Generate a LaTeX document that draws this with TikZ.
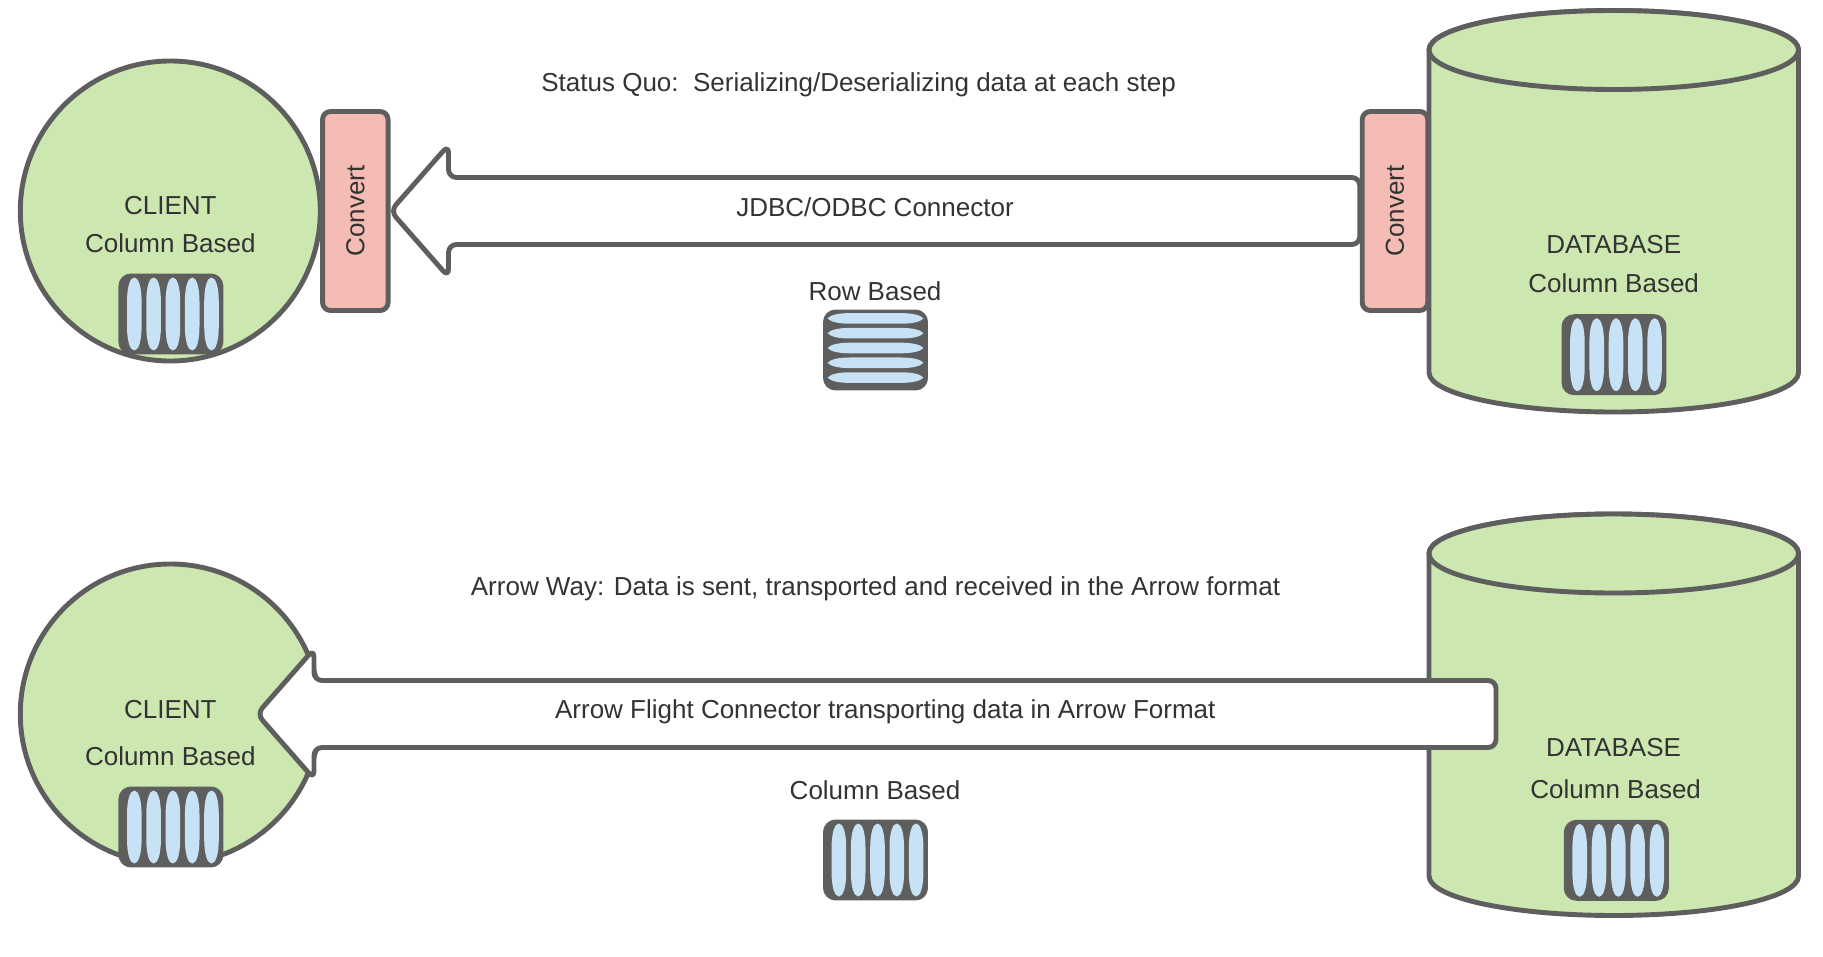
\documentclass[tikz,border=0pt]{standalone}
\usepackage{fontspec}
\usepackage{graphicx}
\setmainfont{Liberation Sans}
\usetikzlibrary{calc}
\definecolor{lgreen}{HTML}{CDE7B0}
\definecolor{lred}{HTML}{F4BCB4}
\definecolor{lblue}{HTML}{C7E2F4}
\definecolor{lstroke}{HTML}{5E5E5E}
\definecolor{ltext}{HTML}{333333}
\tikzset{
  every node/.style={text=ltext,font=\fontsize{26}{30}\selectfont},
  shapeline/.style={draw=lstroke,line width=4.9pt,line join=round},
  txt/.style={inner sep=0pt,text height=18.6pt,text depth=0pt},
  clientnode/.style={circle,shapeline,fill=lgreen,minimum size=300pt,inner sep=0pt},
  convertbox/.style={shapeline,fill=lred,rounded corners=8pt,minimum width=65.5pt,minimum height=199pt,inner sep=0pt},
  fatarrow/.style={shapeline,fill=white,rounded corners=8pt},
  cylbody/.style={shapeline,fill=lgreen},
  iconbox/.style={shapeline,fill=lstroke,rounded corners=10pt,minimum width=100pt,minimum height=76pt,inner sep=0pt},
  barfill/.style={fill=lblue}
}
\newcommand{\colicon}[3]{%
  \node[iconbox] (#1) at (#2,#3) {};
  \foreach \d in {-36.6,-17.3,2,21.3,40.6}
    \fill[barfill] ($(#1.center)+(\d,-36.5)$)
      .. controls +(4.4,0) and +(0,-14) .. ++(7.3,24) -- ++(0,25)
      .. controls +(0,14) and +(4.4,0) .. ++(-7.3,24)
      .. controls +(-4.4,0) and +(0,14) .. ++(-7.3,-24) -- ++(0,-25)
      .. controls +(0,-14) and +(-4.4,0) .. ++(7.3,-24) -- cycle;
}
\newcommand{\rowicon}[3]{%
  \node[iconbox] (#1) at (#2,#3) {};
  \foreach \d in {-31.6,-16.8,-2,12.8,27.6}
    \fill[barfill] ($(#1.center)+(-48,\d)$)
      .. controls +(3,-3.6) and +(-10,0) .. ++(22,-5.3) -- ++(52,0)
      .. controls +(10,0) and +(-3,-3.6) .. ++(22,5.3)
      .. controls +(-3,3.6) and +(10,0) .. ++(-22,5.3) -- ++(-52,0)
      .. controls +(-10,0) and +(3,3.6) .. ++(-22,-5.3) -- cycle;
}
\newcommand{\cylinderat}[1]{%
  \draw[cylbody] (1429,#1) -- ++(0,322.5)
     arc[start angle=180,end angle=360,x radius=184.75pt,y radius=39.5pt]
     -- (1798.5,#1) arc[start angle=0,end angle=180,x radius=184.75pt,y radius=39.5pt] -- cycle;
  \draw[cylbody] (1429,#1) arc[start angle=180,end angle=360,x radius=184.75pt,y radius=39.5pt]
     arc[start angle=0,end angle=180,x radius=184.75pt,y radius=39.5pt] -- cycle;
}
\begin{document}
\begin{tikzpicture}[x=1pt,y=-1pt]
\useasboundingbox (0,0) rectangle (1823,957);
% ---------- top row
\node[clientnode] (client1) at (170.3,211) {};
\cylinderat{50}
\node[convertbox] (conv1) at (355.3,211) {\rotatebox{90}{Convert}};
\node[convertbox] (conv2) at (1395,211) {\rotatebox{90}{Convert}};
\coordinate (tip1) at (conv1.east);
\coordinate (tail1) at (conv2.west);
\draw[fatarrow] (tip1) -- ($(tip1)+(58,-66)$) -- ($(tip1)+(58,-33.5)$) -- ($(tail1)+(0,-33.5)$)
   -- ($(tail1)+(0,33.5)$) -- ($(tip1)+(58,33.5)$) -- ($(tip1)+(58,66)$) -- cycle;
\colicon{icoA}{170.9}{314}
\rowicon{icoB}{875.5}{350}
\colicon{icoC}{1614}{354.7}
\node[txt] (t1) at (858.6,82.5) {Status Quo:\ \ Serializing/Deserializing data at each step};
\node[txt] (t2) at (875,207) {JDBC/ODBC Connector};
\node[txt] (t3) at (875,291.2) {Row Based};
\node[txt] (t4) at (170.3,205.5) {CLIENT};
\node[txt] (t5) at (170.3,243) {Column Based};
\node[txt] (t6) at (1613.7,244) {DATABASE};
\node[txt] (t7) at (1613.7,283.3) {Column Based};
% ---------- bottom row
\node[clientnode] (client2) at (170.3,714) {};
\cylinderat{553.5}
\coordinate (tip2) at (257,714);
\coordinate (tail2) at (1496,714);
\draw[fatarrow] (tip2) -- ($(tip2)+(57,-65)$) -- ($(tip2)+(57,-33.5)$) -- ($(tail2)+(0,-33.5)$)
   -- ($(tail2)+(0,33.5)$) -- ($(tip2)+(57,33.5)$) -- ($(tip2)+(57,65)$) -- cycle;
\colicon{icoD}{170.9}{827}
\colicon{icoE}{875.5}{860}
\colicon{icoF}{1616.3}{860.3}
\node[txt] (t8) at (875.5,586) {Arrow Way: Data is sent, transported and received in the Arrow format};
\node[txt] (t9) at (885.3,709) {Arrow Flight Connector transporting data in Arrow Format};
\node[txt] (t10) at (875,789.8) {Column Based};
\node[txt] (t11) at (170.3,709) {CLIENT};
\node[txt] (t12) at (170.3,756) {Column Based};
\node[txt] (t13) at (1613.5,747.6) {DATABASE};
\node[txt] (t14) at (1615.7,789.3) {Column Based};
\end{tikzpicture}
\end{document}
